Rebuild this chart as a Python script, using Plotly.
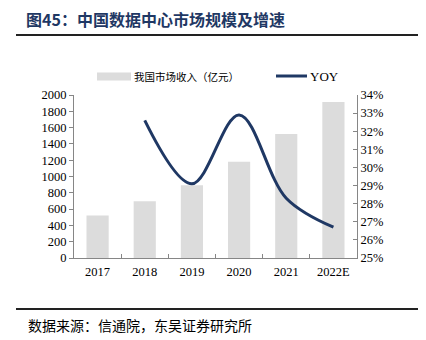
import plotly.graph_objects as go

# Market size (100 million CNY) and year-on-year growth
years = ["2017", "2018", "2019", "2020", "2021", "2022E"]
revenue = [522, 695, 892, 1182, 1520, 1914]
yoy_years = ["2018", "2019", "2020", "2021", "2022E"]
yoy = [0.326, 0.291, 0.329, 0.283, 0.267]

W, H = 426, 340
L, R, T, B = 74, 357, 95, 258  # plot area in pixels

NAVY = "#1F3864"
BAR = "#DCDCDC"
AXIS = "#868686"
SERIF = "Liberation Serif, Times New Roman, serif"
CJK = "Noto Sans CJK SC"


def px(x):
    return (x - L) / (R - L)


def py(y):
    return (B - y) / (B - T)


fig = go.Figure()
fig.add_trace(go.Bar(x=years, y=revenue, marker_color=BAR, marker_line_width=0,
                     name="我国市场收入（亿元）", yaxis="y"))
fig.add_trace(go.Scatter(x=yoy_years, y=yoy, mode="lines", name="YOY",
                         line=dict(color=NAVY, width=3, shape="spline", smoothing=1.0),
                         yaxis="y2"))

fig.update_layout(
    width=W, height=H,
    margin=dict(l=L, r=W - R, t=T, b=H - B, pad=0),
    paper_bgcolor="white", plot_bgcolor="white",
    showlegend=False,
    bargap=0.53,
    font=dict(family=SERIF, size=12, color="#000000"),
    xaxis=dict(
        type="category", showgrid=False, zeroline=False,
        showline=True, linecolor=AXIS, linewidth=1,
        ticks="inside", ticklen=4, tickcolor=AXIS, tickson="boundaries",
        ticklabelstandoff=2,
        tickfont=dict(family=SERIF, size=12.5, color="#000"),
    ),
    yaxis=dict(
        range=[0, 2000], dtick=200, showgrid=False, zeroline=False,
        showline=True, linecolor=AXIS, linewidth=1,
        ticks="outside", ticklen=4, tickcolor=AXIS,
        tickfont=dict(family=SERIF, size=12.5, color="#000"),
    ),
    yaxis2=dict(
        range=[0.25, 0.34], dtick=0.01, tickformat=".0%", overlaying="y", side="right",
        showgrid=False, zeroline=False,
        showline=True, linecolor=AXIS, linewidth=1,
        ticks="inside", ticklen=4, tickcolor=AXIS,
        tickfont=dict(family=SERIF, size=12.5, color="#000"),
    ),
)

shapes = [
    # rule under the title
    dict(type="line", xref="paper", yref="paper", x0=px(16), x1=px(418), y0=py(35), y1=py(35),
         line=dict(color="#222222", width=2)),
    # rule above the source note
    dict(type="line", xref="paper", yref="paper", x0=px(16), x1=px(418), y0=py(309), y1=py(309),
         line=dict(color="#222222", width=2)),
    # legend swatches
    dict(type="rect", xref="paper", yref="paper", x0=px(97), x1=px(131), y0=py(80.5), y1=py(72.5),
         fillcolor=BAR, line=dict(width=0)),
    dict(type="line", xref="paper", yref="paper", x0=px(276), x1=px(307), y0=py(76), y1=py(76),
         line=dict(color=NAVY, width=3)),
]

annotations = [
    dict(text="<b>图45：中国数据中心市场规模及增速</b>", xref="paper", yref="paper",
         x=px(24), y=py(19), xanchor="left", yanchor="middle", showarrow=False,
         font=dict(family=CJK, size=16, color=NAVY)),
    dict(text="我国市场收入（亿元）", xref="paper", yref="paper",
         x=px(132), y=py(76.5), xanchor="left", yanchor="middle", showarrow=False,
         font=dict(family=CJK, size=10.5, color="#000")),
    dict(text="YOY", xref="paper", yref="paper",
         x=px(308), y=py(76.5), xanchor="left", yanchor="middle", showarrow=False,
         font=dict(family=SERIF, size=13, color="#000")),
    dict(text="数据来源：信通院，东吴证券研究所", xref="paper", yref="paper",
         x=px(26), y=py(325), xanchor="left", yanchor="middle", showarrow=False,
         font=dict(family=CJK, size=14, color="#000")),
]

fig.update_layout(shapes=shapes, annotations=annotations)
fig.write_html("out.html")
